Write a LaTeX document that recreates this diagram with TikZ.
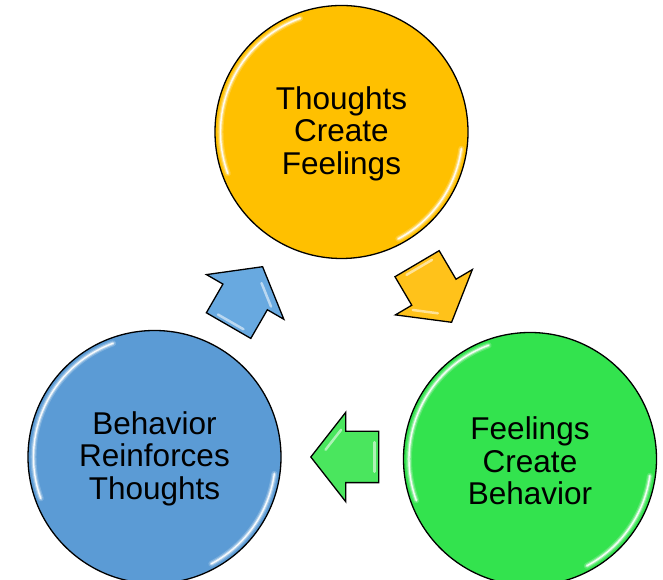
\documentclass[tikz,border=0pt]{standalone}
\usepackage{fontspec}
\setmainfont{Liberation Sans}
\usetikzlibrary{shapes.arrows,calc}
\definecolor{gold}{HTML}{FFC000}
\definecolor{leaf}{HTML}{33E34E}
\definecolor{sky}{HTML}{5B9BD5}
\definecolor{goldarr}{HTML}{FFC21A}
\definecolor{leafarr}{HTML}{4AE65E}
\definecolor{skyarr}{HTML}{68A9E0}
\tikzset{
  stage/.style={circle,draw=black,line width=1.3pt,
                minimum size=253pt,inner sep=0pt,align=center,
                font=\fontsize{31.5}{32.5}\selectfont},
  cyclearrow/.style={single arrow,draw=black,line width=1.3pt,anchor=tip,
                     minimum height=68pt,inner xsep=0pt,inner ysep=25pt,
                     single arrow head extend=19pt,single arrow tip angle=104},
  gloss/.style={white,line cap=round}
}

\begin{document}
\begin{tikzpicture}[x=1pt,y=1pt]
  \useasboundingbox (0,0) rectangle (663,580);

  % the three stages of the cycle
  \node[stage,fill=gold] (thoughts) at (341.5,448) {\\[-6pt]Thoughts\\Create\\Feelings};
  \node[stage,fill=leaf] (feelings) at (530,121) {\\[-6pt]Feelings\\Create\\Behavior};
  \node[stage,fill=sky] (behavior) at (154.5,123) {\\[-6pt]Behavior\\Reinforces\\Thoughts};

  % soft rim highlights
  \foreach \c in {thoughts,feelings,behavior}{
    \foreach \w/\o in {6/.2,3.5/.4,1.4/.9}{
      \draw[gloss,line width=\w pt,opacity=\o] ([shift={(110:121pt)}]\c.center) arc[start angle=110,end angle=200,radius=121pt];
      \draw[gloss,line width=\w pt,opacity=\o] ([shift={(-8:121pt)}]\c.center) arc[start angle=-8,end angle=-62,radius=121pt];
    }
  }

  % arrows between the stages
  \node[cyclearrow,fill=goldarr,rotate=-59.5] (tf) at (452,257) {};
  \node[cyclearrow,fill=leafarr,rotate=180] (fb) at (310,123) {};
  \node[cyclearrow,fill=skyarr,rotate=60] (bt) at (263,314) {};

  % bevel highlights on the arrows
  \foreach \a in {tf,fb,bt}{
    \draw[gloss,line width=2.5pt,opacity=.55]
      ($($(\a.tip)!.2!(\a.after tip)$)!.22!(\a.center)$) -- ($($(\a.tip)!.75!(\a.after tip)$)!.22!(\a.center)$);
    \draw[gloss,line width=2.5pt,opacity=.55]
      ($($(\a.before tail)!.15!(\a.after tail)$)!.2!(\a.center)$) -- ($($(\a.before tail)!.85!(\a.after tail)$)!.2!(\a.center)$);
  }
\end{tikzpicture}
\end{document}
